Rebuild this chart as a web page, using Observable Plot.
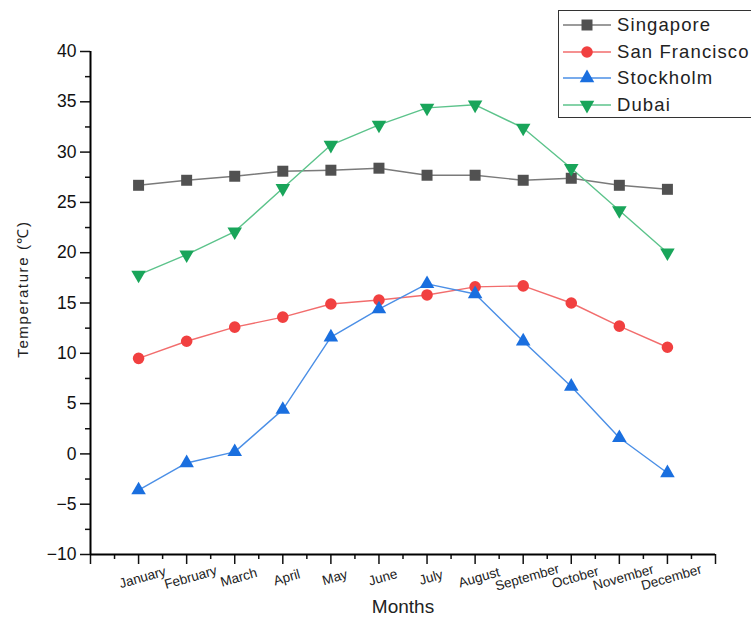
<!DOCTYPE html>
<html>
<head>
<meta charset="utf-8">
<script src="https://cdn.jsdelivr.net/npm/d3@7"></script>
<script src="https://cdn.jsdelivr.net/npm/@observablehq/plot@0.6"></script>
<style>
  html, body { margin: 0; padding: 0; background: #fff; }
  #wrap { position: relative; width: 751px; height: 619px; overflow: hidden; font-family: "Liberation Sans", Arial, sans-serif; }
  #legend { position: absolute; left: 558px; top: 10px; width: 240px; height: 108px; border: 1px solid #333; background: #fff; box-sizing: border-box; }
  .item { position: absolute; left: 0; height: 26px; display: flex; align-items: center; font-size: 18.5px; letter-spacing: 1.1px; color: #222; white-space: nowrap; }
  .item svg { margin-left: 3px; margin-right: 5px; }
</style>
</head>
<body>
<div id="wrap"><div id="chart"></div><div id="legend"></div></div>
<script>
const months = ["January","February","March","April","May","June","July","August","September","October","November","December"];
const singapore    = [26.7, 27.2, 27.6, 28.1, 28.2, 28.4, 27.7, 27.7, 27.2, 27.4, 26.7, 26.3];
const sanFrancisco = [9.5, 11.2, 12.6, 13.6, 14.9, 15.3, 15.8, 16.6, 16.7, 15.0, 12.7, 10.6];
const stockholm    = [-3.6, -0.9, 0.2, 4.4, 11.6, 14.4, 16.9, 15.9, 11.2, 6.7, 1.6, -1.9];
const dubai        = [17.8, 19.8, 22.1, 26.4, 30.7, 32.7, 34.4, 34.7, 32.4, 28.4, 24.2, 20.0];
const seriesNames  = ["Singapore", "San Francisco", "Stockholm", "Dubai"];
const yTicks = [-10, -5, 0, 5, 10, 15, 20, 25, 30, 35, 40];

const styles = {
  "Singapore":     {line: "#7a7a7a", fill: "#515151", symbol: "square",   r: 6.2, rotate: 0},
  "San Francisco": {line: "#f26d6d", fill: "#F14040", symbol: "circle",   r: 5.8, rotate: 0},
  "Stockholm":     {line: "#4b8fe6", fill: "#1A6FDF", symbol: "triangle", r: 5.4, rotate: 0},
  "Dubai":         {line: "#5cc38b", fill: "#19A55A", symbol: "triangle", r: 5.4, rotate: 180}
};
const values = [singapore, sanFrancisco, stockholm, dubai];
const data = [];
seriesNames.forEach((s, i) => values[i].forEach((v, j) => data.push({series: s, m: j + 1, month: months[j], t: v})));

const marks = [];
for (const s of seriesNames) {
  const d = data.filter(p => p.series === s);
  const st = styles[s];
  marks.push(Plot.line(d, {x: "m", y: "t", stroke: st.line, strokeWidth: 1.4}));
}
for (const s of seriesNames) {
  const d = data.filter(p => p.series === s);
  const st = styles[s];
  marks.push(Plot.dot(d, {x: "m", y: "t", symbol: () => st.symbol, fill: st.fill, stroke: "none", r: st.r, rotate: st.rotate}));
}

const majorX = d3.range(0, 14);
const minorX = d3.range(0.5, 13, 1);
const minorY = d3.range(-7.5, 40, 5);

const plot = Plot.plot({
  width: 751,
  height: 619,
  marginLeft: 90,
  marginRight: 36,
  marginTop: 51,
  marginBottom: 65,
  style: {fontFamily: "'Liberation Sans', Arial, sans-serif", background: "#fff", color: "#111"},
  x: {domain: [0, 13]},
  y: {domain: [-10, 40]},
  marks: [
    Plot.axisY({ticks: yTicks, tickSize: 10, tickPadding: 4, fontSize: 17.5, label: null, tickFormat: d => d < 0 ? "\u2212" + Math.abs(d) : String(d), strokeWidth: 1.5}),
    Plot.axisY({ticks: minorY, tickSize: 5, tickFormat: null, label: null, text: null, strokeWidth: 1.5}),
    Plot.axisX({ticks: majorX, tickSize: 10, tickFormat: () => "", label: null, strokeWidth: 1.5}),
    Plot.axisX({ticks: minorX, tickSize: 5, tickFormat: () => "", label: null, strokeWidth: 1.5}),
    Plot.ruleX([0], {y1: -10, y2: 40, stroke: "#000", strokeWidth: 2}),
    Plot.ruleY([-10], {x1: 0, x2: 13, stroke: "#000", strokeWidth: 2}),
    Plot.text(months, {x: (d, i) => i + 1, y: -10, text: d => d, dy: 23, dx: 4, rotate: -16, fontSize: 13.5, fill: "#222", textAnchor: "middle", clip: false}),
    Plot.text(["Months"], {frameAnchor: "bottom", dy: 58, fontSize: 19, fill: "#222", textAnchor: "middle"}),
    Plot.text(["Temperature (\u2103)"], {frameAnchor: "left", textAnchor: "middle", dx: -67, dy: -14, rotate: -90, fontSize: 15, fill: "#222"}),
    ...marks
  ]
});
d3.select(plot).selectAll("text").filter(function() { return this.textContent === "Temperature (\u2103)"; }).style("letter-spacing", "1.6px");
document.getElementById("chart").appendChild(plot);

// Legend
const legend = document.getElementById("legend");
seriesNames.forEach((s, i) => {
  const st = styles[s];
  const item = document.createElement("div");
  item.className = "item";
  item.style.top = (1 + i * 26.5) + "px";
  const svg = d3.create("svg").attr("width", 50).attr("height", 20);
  svg.append("line").attr("x1", 1).attr("x2", 49).attr("y1", 10).attr("y2", 10).attr("stroke", st.line).attr("stroke-width", 1.4);
  const sym = st.symbol === "square" ? d3.symbolSquare : st.symbol === "circle" ? d3.symbolCircle : d3.symbolTriangle;
  svg.append("path").attr("d", d3.symbol(sym, Math.PI * st.r * st.r)()).attr("fill", st.fill)
    .attr("transform", `translate(25,10) rotate(${st.rotate})`);
  item.appendChild(svg.node());
  const span = document.createElement("span");
  span.textContent = s;
  item.appendChild(span);
  legend.appendChild(item);
});
</script>
</body>
</html>
